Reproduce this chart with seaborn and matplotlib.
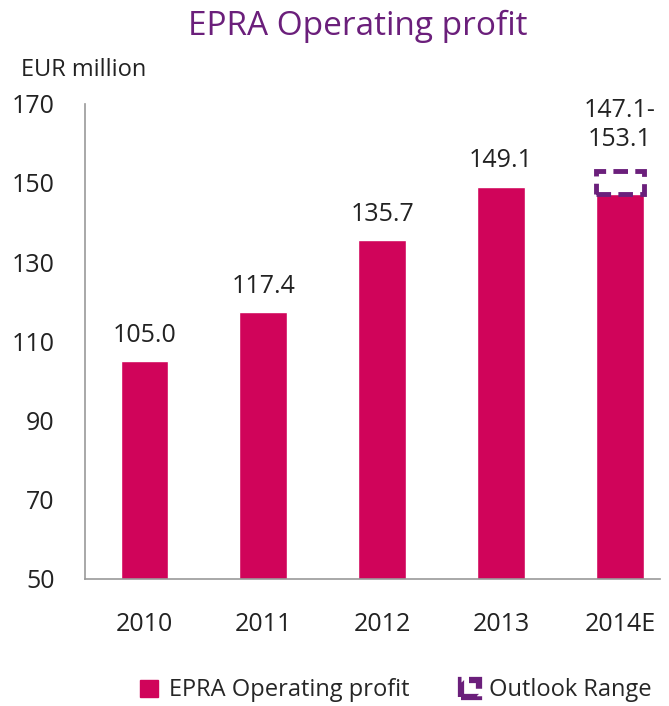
import matplotlib
matplotlib.use('Agg')
import matplotlib.pyplot as plt
from matplotlib.patches import Patch, Rectangle
import pandas as pd
import seaborn as sns

years = ['2010', '2011', '2012', '2013', '2014E']
profit = [105.0, 117.4, 135.7, 149.1, 147.1]
labels = ['105.0', '117.4', '135.7', '149.1', '147.1-\n153.1']
outlook_low = 147.1
outlook_high = 153.1

pink = '#D0045A'
purple = '#6B1F7B'

sns.set_style('white')
plt.rcParams['font.family'] = ['Open Sans', 'DejaVu Sans']

df = pd.DataFrame({'year': years, 'profit': profit})

fig = plt.figure(figsize=(6.69, 7.06), dpi=100)
ax = fig.add_axes([0.127, 0.180, 0.86, 0.673])

sns.barplot(data=df, x='year', y='profit', color=pink, width=0.4,
            saturation=1, ax=ax)

# outlook range box on the last bar
ax.bar(4, outlook_high - outlook_low, bottom=outlook_low, width=0.4,
       fill=False, edgecolor=purple, linestyle=(0, (3, 1.5)), linewidth=3.5)

for i, (v, lab) in enumerate(zip(profit, labels)):
    top = outlook_high + 1.5 if i == 4 else v
    ax.text(i, top + 3.3, lab, ha='center', va='bottom', fontsize=18,
            color='#222222', linespacing=1.2)

ax.set_ylim(50, 170)
ax.set_xlim(-0.5, 4.34)
ax.set_yticks(range(50, 171, 20))
ax.set_xlabel('')
ax.set_ylabel('')
ax.tick_params(axis='both', length=0, labelsize=18, colors='#222222')
ax.tick_params(axis='y', pad=22)
ax.tick_params(axis='x', pad=24)
for s in ['top', 'right']:
    ax.spines[s].set_visible(False)
for s in ['left', 'bottom']:
    ax.spines[s].set_color('#999999')
    ax.spines[s].set_linewidth(1.2)

fig.text(0.535, 0.963, 'EPRA Operating profit', ha='center', va='center',
         fontsize=24, color=purple)
fig.text(0.031, 0.901, 'EUR million', ha='left', va='center', fontsize=17,
         color='#222222')

handles = [Patch(facecolor=pink, edgecolor=pink),
           Rectangle((0, 0), 1, 1, facecolor='none', edgecolor=purple,
                     linewidth=4.5, linestyle=(0, (3, 1.2)))]
fig.legend(handles, ['EPRA Operating profit', 'Outlook Range'],
           loc='center', bbox_to_anchor=(0.592, 0.022), ncol=2, frameon=False,
           fontsize=17, handlelength=0.75, handleheight=0.75,
           handletextpad=0.45, columnspacing=2.2)

fig.savefig('out.png', dpi=100)
